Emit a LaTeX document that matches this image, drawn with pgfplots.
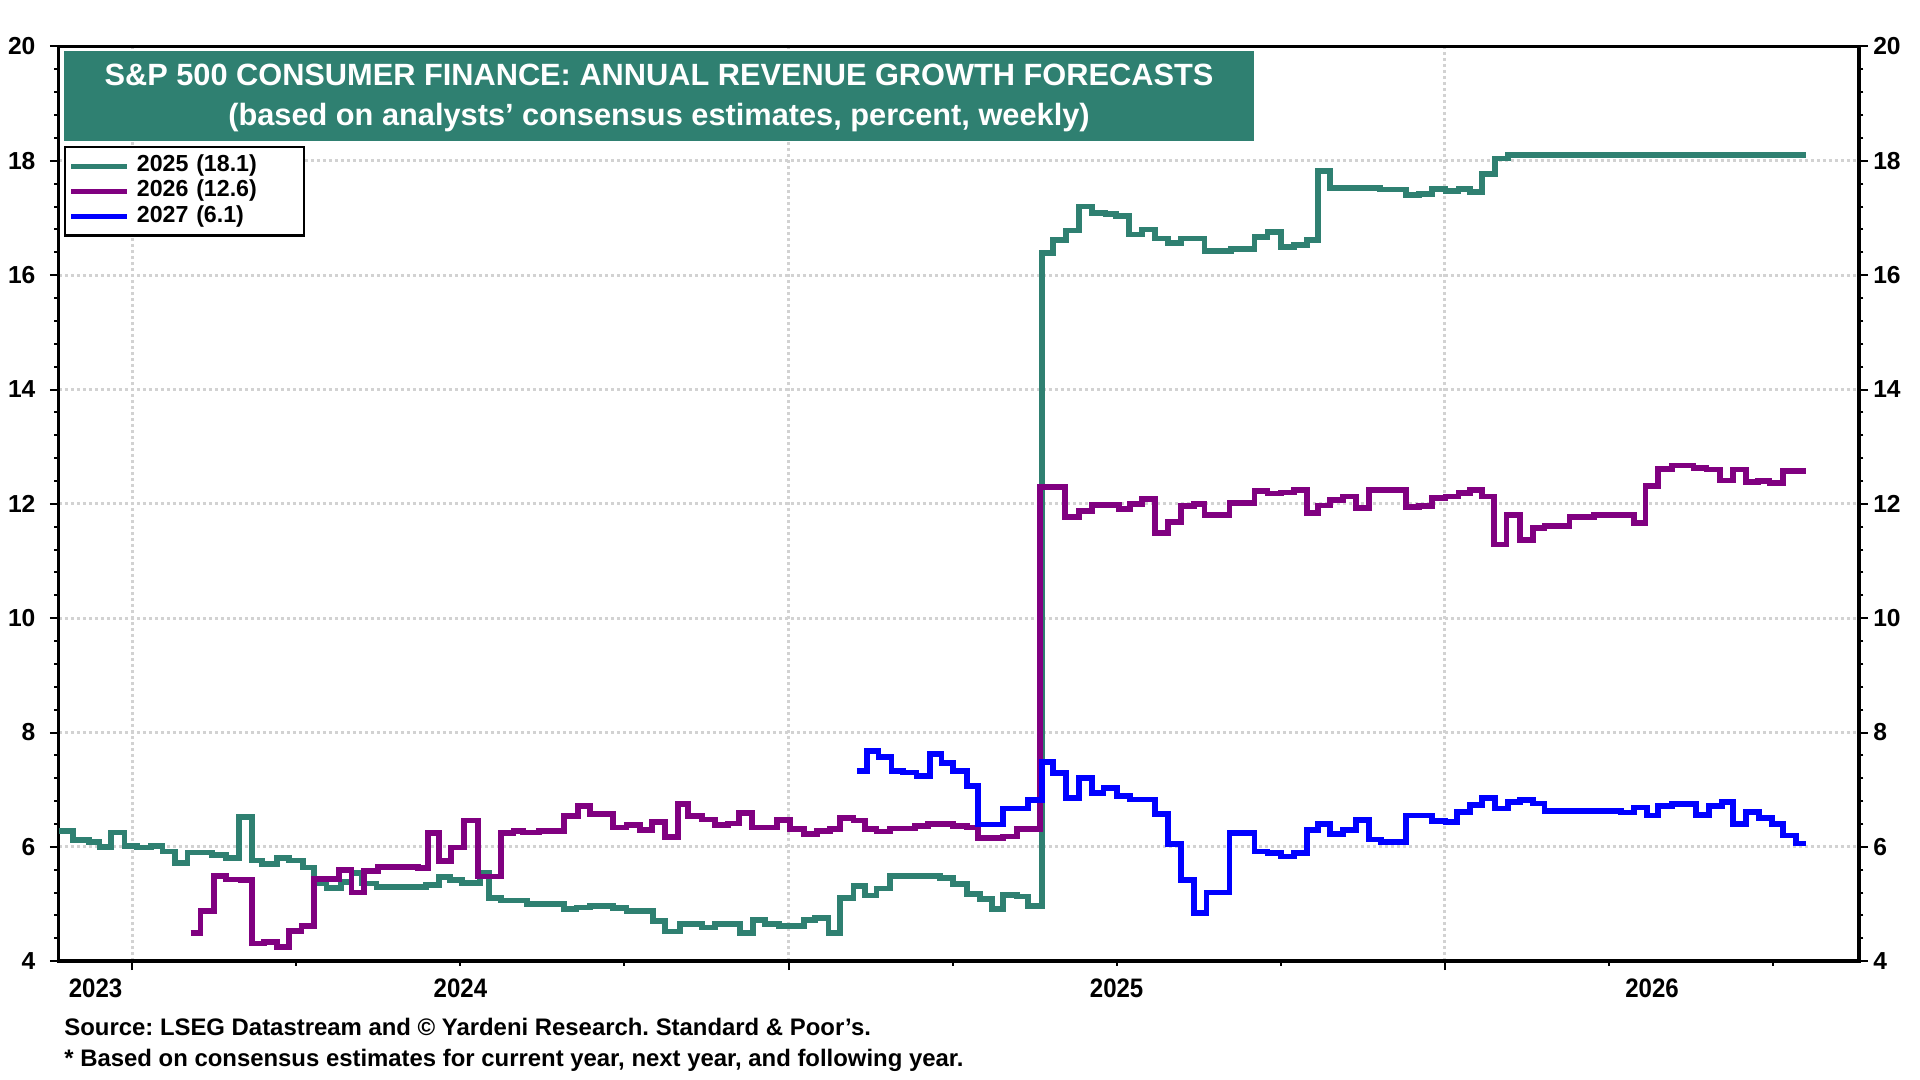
\documentclass[border=0pt]{standalone}
\usepackage{fontspec}
\setmainfont{Liberation Sans}
\newfontfamily\narrowfont[FakeStretch=0.9]{Liberation Sans}
\usepackage{pgfplots}
\pgfplotsset{compat=1.18}
\definecolor{tealc}{RGB}{47,128,113}
\definecolor{purp}{RGB}{128,0,128}
\definecolor{bluec}{RGB}{0,0,255}
\definecolor{gridc}{RGB}{210,210,210}
\frenchspacing
\begin{document}
\begin{tikzpicture}
\useasboundingbox (-5.88mm,-11.88mm) rectangle (186.12mm,96.12mm);
\begin{axis}[
  at={(0mm,0mm)}, anchor=south west,
  scale only axis, width=180mm, height=91.47mm,
  xmin=2023.888, xmax=2026.631, ymin=4, ymax=20,
  axis line style={line width=0.34mm},
  tick align=outside,
  xtick={2024,2025,2026}, xticklabels={},
  minor xtick={2024.25,2024.5,2024.75,2025.25,2025.5,2025.75,2026.25,2026.5},
  xtick pos=bottom,
  extra x ticks={2023.944,2024.5,2025.5,2026.316},
  extra x tick labels={2023,2024,2025,2026},
  extra x tick style={major tick length=0pt, xmajorgrids=false},
  ytick={4,6,...,20}, minor y tick num=4, ytick pos=both,
  major tick length=0.9mm, minor tick length=0.45mm,
  tick style={black, line width=0.2mm},
  major grid style={gridc, line width=0.28mm, dash pattern=on 0.3mm off 0.3mm},
  xmajorgrids, ymajorgrids,
  /pgf/number format/assume math mode=true,
  yticklabel style={font=\fontsize{7}{8}\selectfont\bfseries, xshift=-0.2mm},
  xticklabel style={font=\fontsize{7.6}{8}\narrowfont\bfseries, yshift=-0.5mm},
  legend style={at={(0.0027,0.8915)}, anchor=north west, draw=black, line width=0.25mm, fill=white,
    font=\fontsize{6.6}{7.5}\selectfont\bfseries, inner xsep=0.4mm, inner ysep=0.1mm, row sep=-1.1mm,
    cells={anchor=west}, text width=15.6mm},
  legend image code/.code={\draw[#1, line width=0.5mm] (0mm,0mm) -- (5.6mm,0mm);},
  const plot,
]
\addplot[tealc, line width=0.58mm] coordinates {
(2023.888,6.28) (2023.9095,6.12) (2023.934,6.08) (2023.950,6.00) (2023.967,6.25) (2023.988,6.02)
(2024.007,5.99) (2024.029,6.02) (2024.046,5.92) (2024.065,5.72) (2024.084,5.90) (2024.122,5.86)
(2024.143,5.80) (2024.163,6.52) (2024.182,5.76) (2024.198,5.70) (2024.220,5.81) (2024.239,5.76)
(2024.260,5.64) (2024.277,5.37) (2024.296,5.28) (2024.318,5.39) (2024.334,5.54) (2024.350,5.36)
(2024.372,5.30) (2024.448,5.33) (2024.467,5.47) (2024.484,5.42) (2024.503,5.37) (2024.530,5.54)
(2024.543,5.10) (2024.562,5.06) (2024.601,5.00) (2024.658,4.91) (2024.677,4.94) (2024.698,4.97)
(2024.733,4.93) (2024.753,4.88) (2024.794,4.70) (2024.812,4.52) (2024.835,4.65) (2024.868,4.59)
(2024.888,4.65) (2024.926,4.49) (2024.946,4.72) (2024.964,4.65) (2024.985,4.62) (2025.023,4.72)
(2025.040,4.75) (2025.061,4.50) (2025.079,5.10) (2025.099,5.32) (2025.117,5.15) (2025.134,5.27)
(2025.155,5.49) (2025.231,5.45) (2025.251,5.35) (2025.272,5.18) (2025.292,5.09) (2025.310,4.91)
(2025.327,5.16) (2025.348,5.13) (2025.365,4.97) (2025.386,16.39) (2025.403,16.61) (2025.423,16.78)
(2025.443,17.20) (2025.463,17.09) (2025.483,17.07) (2025.499,17.03) (2025.519,16.71) (2025.539,16.80)
(2025.558,16.64) (2025.578,16.56) (2025.598,16.64) (2025.634,16.42) (2025.674,16.46) (2025.710,16.67)
(2025.730,16.75) (2025.750,16.49) (2025.770,16.53) (2025.790,16.61) (2025.807,17.82) (2025.825,17.53)
(2025.901,17.50) (2025.941,17.40) (2025.961,17.42) (2025.981,17.51) (2026.001,17.47) (2026.021,17.51)
(2026.038,17.46) (2026.057,17.77) (2026.077,18.04) (2026.096,18.10) (2026.551,18.10)
};
\addlegendentry{2025 (18.1)}
\addplot[purp, line width=0.58mm] coordinates {
(2024.089,4.49) (2024.104,4.88) (2024.124,5.49) (2024.143,5.43) (2024.165,5.42) (2024.182,4.31)
(2024.201,4.34) (2024.220,4.25) (2024.239,4.53) (2024.258,4.62) (2024.277,5.44) (2024.315,5.60)
(2024.334,5.20) (2024.353,5.58) (2024.375,5.65) (2024.435,5.63) (2024.451,6.24) (2024.467,5.75)
(2024.486,5.99) (2024.505,6.46) (2024.527,5.48) (2024.562,6.24) (2024.581,6.28) (2024.595,6.25)
(2024.620,6.28) (2024.658,6.54) (2024.679,6.72) (2024.698,6.57) (2024.733,6.34) (2024.753,6.38)
(2024.774,6.30) (2024.792,6.44) (2024.812,6.17) (2024.832,6.75) (2024.847,6.54) (2024.868,6.48)
(2024.888,6.38) (2024.908,6.41) (2024.924,6.59) (2024.944,6.34) (2024.982,6.47) (2025.002,6.31)
(2025.023,6.23) (2025.043,6.28) (2025.063,6.31) (2025.079,6.51) (2025.099,6.46) (2025.117,6.31)
(2025.134,6.27) (2025.155,6.32) (2025.193,6.37) (2025.213,6.40) (2025.251,6.37) (2025.272,6.34)
(2025.289,6.15) (2025.327,6.18) (2025.348,6.31) (2025.383,12.29) (2025.421,11.77) (2025.443,11.87)
(2025.463,11.98) (2025.503,11.91) (2025.520,12.00) (2025.539,12.09) (2025.558,11.49) (2025.578,11.68)
(2025.598,11.96) (2025.618,12.00) (2025.634,11.81) (2025.672,12.02) (2025.710,12.22) (2025.730,12.18)
(2025.750,12.20) (2025.770,12.24) (2025.790,11.84) (2025.807,11.97) (2025.825,12.07) (2025.845,12.13)
(2025.865,11.93) (2025.884,12.24) (2025.941,11.94) (2025.961,11.96) (2025.981,12.10) (2026.001,12.13)
(2026.021,12.19) (2026.038,12.24) (2026.057,12.13) (2026.075,11.29) (2026.094,11.81) (2026.115,11.37)
(2026.135,11.58) (2026.152,11.61) (2026.190,11.77) (2026.228,11.80) (2026.268,11.81) (2026.288,11.66)
(2026.306,12.31) (2026.325,12.61) (2026.346,12.67) (2026.379,12.63) (2026.399,12.60) (2026.419,12.41)
(2026.439,12.60) (2026.459,12.38) (2026.477,12.40) (2026.495,12.37) (2026.515,12.57) (2026.551,12.57)
};
\addlegendentry{2026 (12.6)}
\addplot[bluec, line width=0.58mm] coordinates {
(2025.104,7.33) (2025.119,7.67) (2025.137,7.57) (2025.157,7.33) (2025.175,7.30) (2025.195,7.24)
(2025.216,7.62) (2025.233,7.46) (2025.251,7.33) (2025.272,7.06) (2025.289,6.39) (2025.327,6.67)
(2025.365,6.82) (2025.386,7.49) (2025.403,7.29) (2025.423,6.86) (2025.443,7.21) (2025.463,6.94)
(2025.480,7.03) (2025.501,6.89) (2025.520,6.83) (2025.558,6.57) (2025.578,6.05) (2025.598,5.42)
(2025.618,4.84) (2025.637,5.20) (2025.672,6.24) (2025.710,5.92) (2025.730,5.89) (2025.750,5.83)
(2025.770,5.89) (2025.790,6.30) (2025.807,6.40) (2025.825,6.23) (2025.845,6.30) (2025.865,6.47)
(2025.884,6.13) (2025.903,6.08) (2025.941,6.55) (2025.981,6.45) (2026.001,6.43) (2026.019,6.61)
(2026.038,6.73) (2026.057,6.86) (2026.077,6.67) (2026.096,6.79) (2026.115,6.82) (2026.134,6.76)
(2026.152,6.63) (2026.268,6.60) (2026.288,6.69) (2026.308,6.55) (2026.325,6.71) (2026.346,6.75)
(2026.383,6.56) (2026.403,6.71) (2026.423,6.78) (2026.439,6.40) (2026.459,6.61) (2026.479,6.51)
(2026.499,6.40) (2026.516,6.20) (2026.535,6.06) (2026.551,6.06)
};
\addlegendentry{2027 (6.1)}
\end{axis}
\begin{axis}[
  at={(0mm,0mm)}, anchor=south west,
  scale only axis, width=180mm, height=91.47mm,
  xmin=2023.888, xmax=2026.631, ymin=4, ymax=20,
  hide x axis, axis y line*=right,
  ytick={4,6,...,20},
  y axis line style={draw=none}, ytick style={draw=none},
  major tick length=0.9mm,
  /pgf/number format/assume math mode=true,
  yticklabel style={font=\fontsize{7}{8}\selectfont\bfseries, xshift=0.2mm},
]
\end{axis}
\fill[tealc] (0.49mm,82.04mm) rectangle (119.52mm,90.98mm);
\node[white, font=\fontsize{8.75}{10}\selectfont\bfseries] at (60.02mm,88.65mm) {S\&P 500 CONSUMER FINANCE: ANNUAL REVENUE GROWTH FORECASTS};
\node[white, font=\fontsize{8.75}{10}\selectfont\bfseries] at (60.02mm,84.37mm) {(based on analysts’ consensus estimates, percent, weekly)};
\node[anchor=west, inner sep=0pt, font=\fontsize{6.8}{8}\selectfont\bfseries] at (0.49mm,-6.62mm) {Source: LSEG Datastream and © Yardeni Research. Standard \& Poor's.};
\node[anchor=west, inner sep=0pt, font=\fontsize{6.8}{8}\selectfont\bfseries] at (0.49mm,-9.92mm) {* Based on consensus estimates for current year, next year, and following year.};
\end{tikzpicture}
\end{document}
